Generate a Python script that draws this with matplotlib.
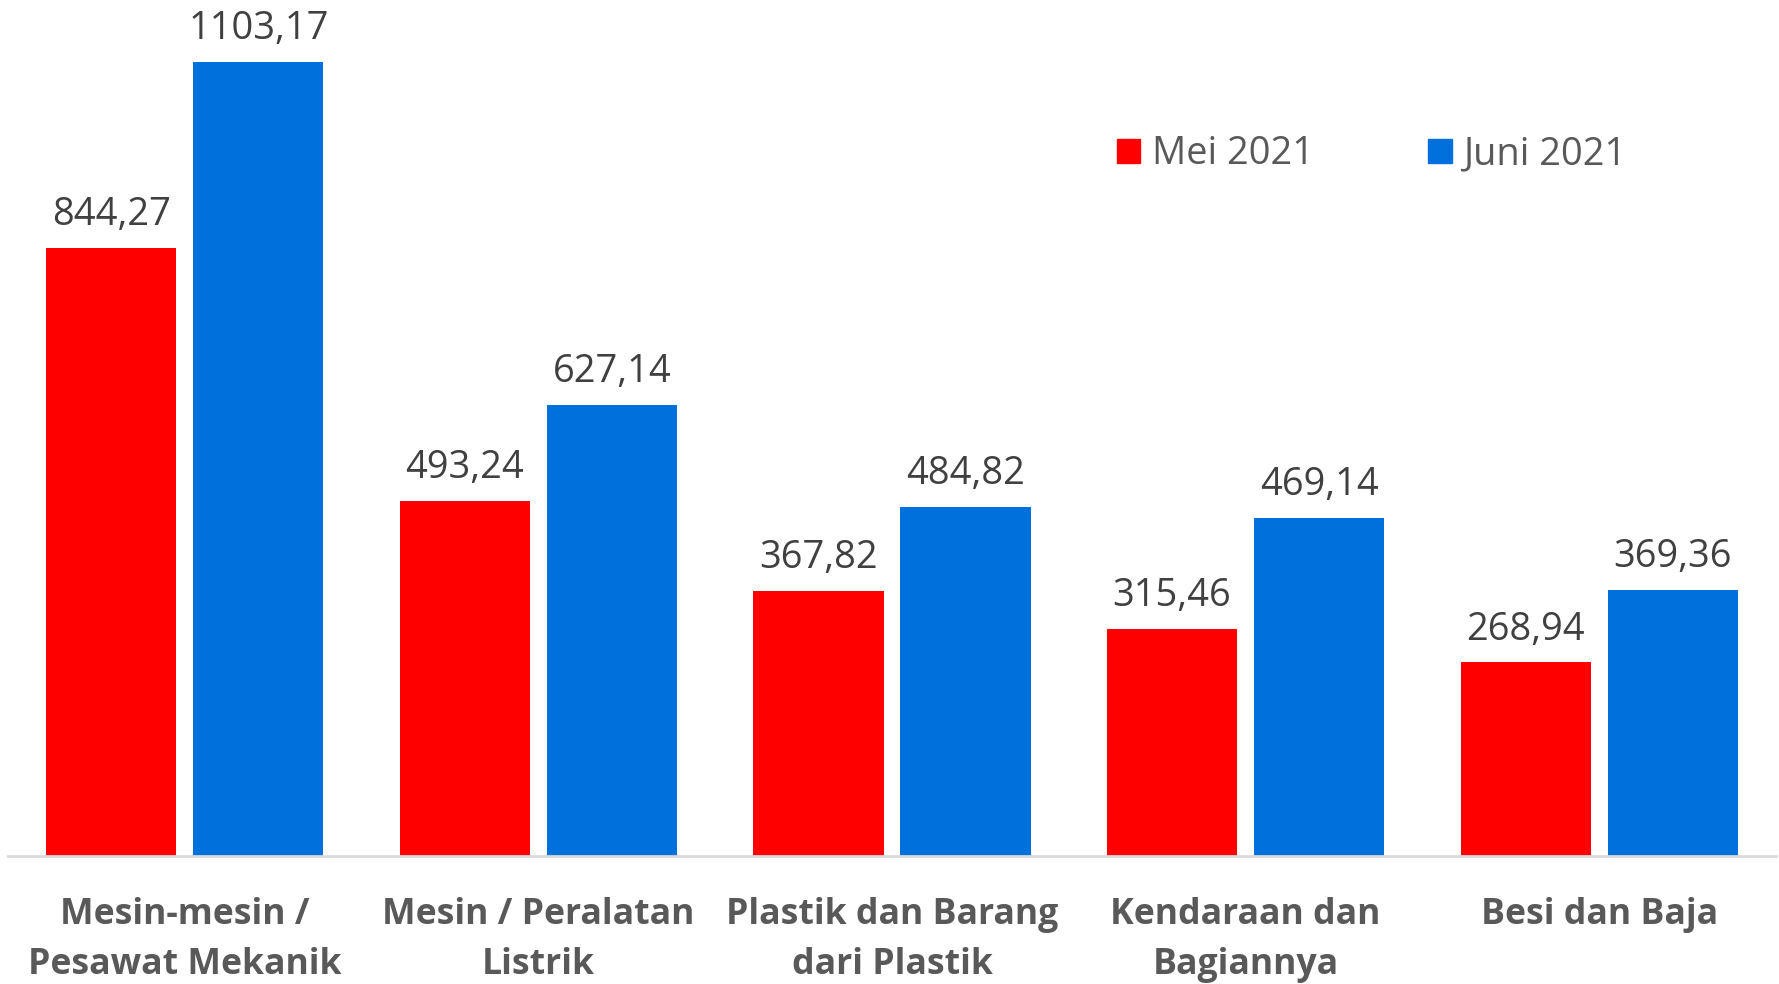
import matplotlib
matplotlib.use("Agg")
from matplotlib import pyplot as plt
from matplotlib.patches import Patch
import numpy as np

# export values (juta USD) per commodity group
categories = ["Mesin-mesin /\nPesawat Mekanik", "Mesin / Peralatan\nListrik",
              "Plastik dan Barang\ndari Plastik", "Kendaraan dan\nBagiannya",
              "Besi dan Baja"]
mei_2021 = [844.27, 493.24, 367.82, 315.46, 268.94]
juni_2021 = [1103.17, 627.14, 484.82, 469.14, 369.36]
series_names = ["Mei 2021", "Juni 2021"]

RED = "#FF0000"
BLUE = "#0070DD"
VALUE_COLOR = "#404040"
LABEL_COLOR = "#595959"

plt.rcParams['font.family'] = ['Open Sans', 'DejaVu Sans']

fig = plt.figure(figsize=(17.79, 9.84), dpi=100)
ax = fig.add_axes([8 / 1779, 128 / 984, 1768 / 1779, 856 / 984])

x = np.arange(len(categories))
w = 0.368
off = 0.208
bars_m = ax.bar(x - off, mei_2021, w, color=RED)
bars_j = ax.bar(x + off, juni_2021, w, color=BLUE)

ax.set_xlim(-0.5, len(categories) - 0.5)
ax.set_ylim(0, 1189.4)

# value labels above each bar
for bars, vals in ((bars_m, mei_2021), (bars_j, juni_2021)):
    for b, v in zip(bars, vals):
        ax.annotate(f"{v:.2f}".replace(".", ","),
                    (b.get_x() + b.get_width() / 2, v),
                    xytext=(0, 16.5), textcoords="offset points",
                    ha="center", va="baseline", fontsize=27.4,
                    color=VALUE_COLOR)

for s in ("top", "right", "left"):
    ax.spines[s].set_visible(False)
ax.spines["bottom"].set_color("#D9D9D9")
ax.spines["bottom"].set_linewidth(2)
ax.set_yticks([])
ax.set_xticks([])

# category labels under the axis
for xi, name in zip(x, categories):
    ax.text(xi, -0.048, name, transform=ax.get_xaxis_transform(),
            ha="center", va="top", fontsize=25.7, fontweight="bold",
            color=LABEL_COLOR, linespacing=1.52)

handles = [Patch(color=RED), Patch(color=BLUE)]
fig.legend(handles, series_names, loc="center", bbox_to_anchor=(0.771, 0.843),
           ncol=2, frameon=False, fontsize=27.4, labelcolor=LABEL_COLOR,
           handlelength=0.62, handleheight=0.62, handletextpad=0.3,
           columnspacing=3.0)

fig.savefig("out.png", dpi=100)
